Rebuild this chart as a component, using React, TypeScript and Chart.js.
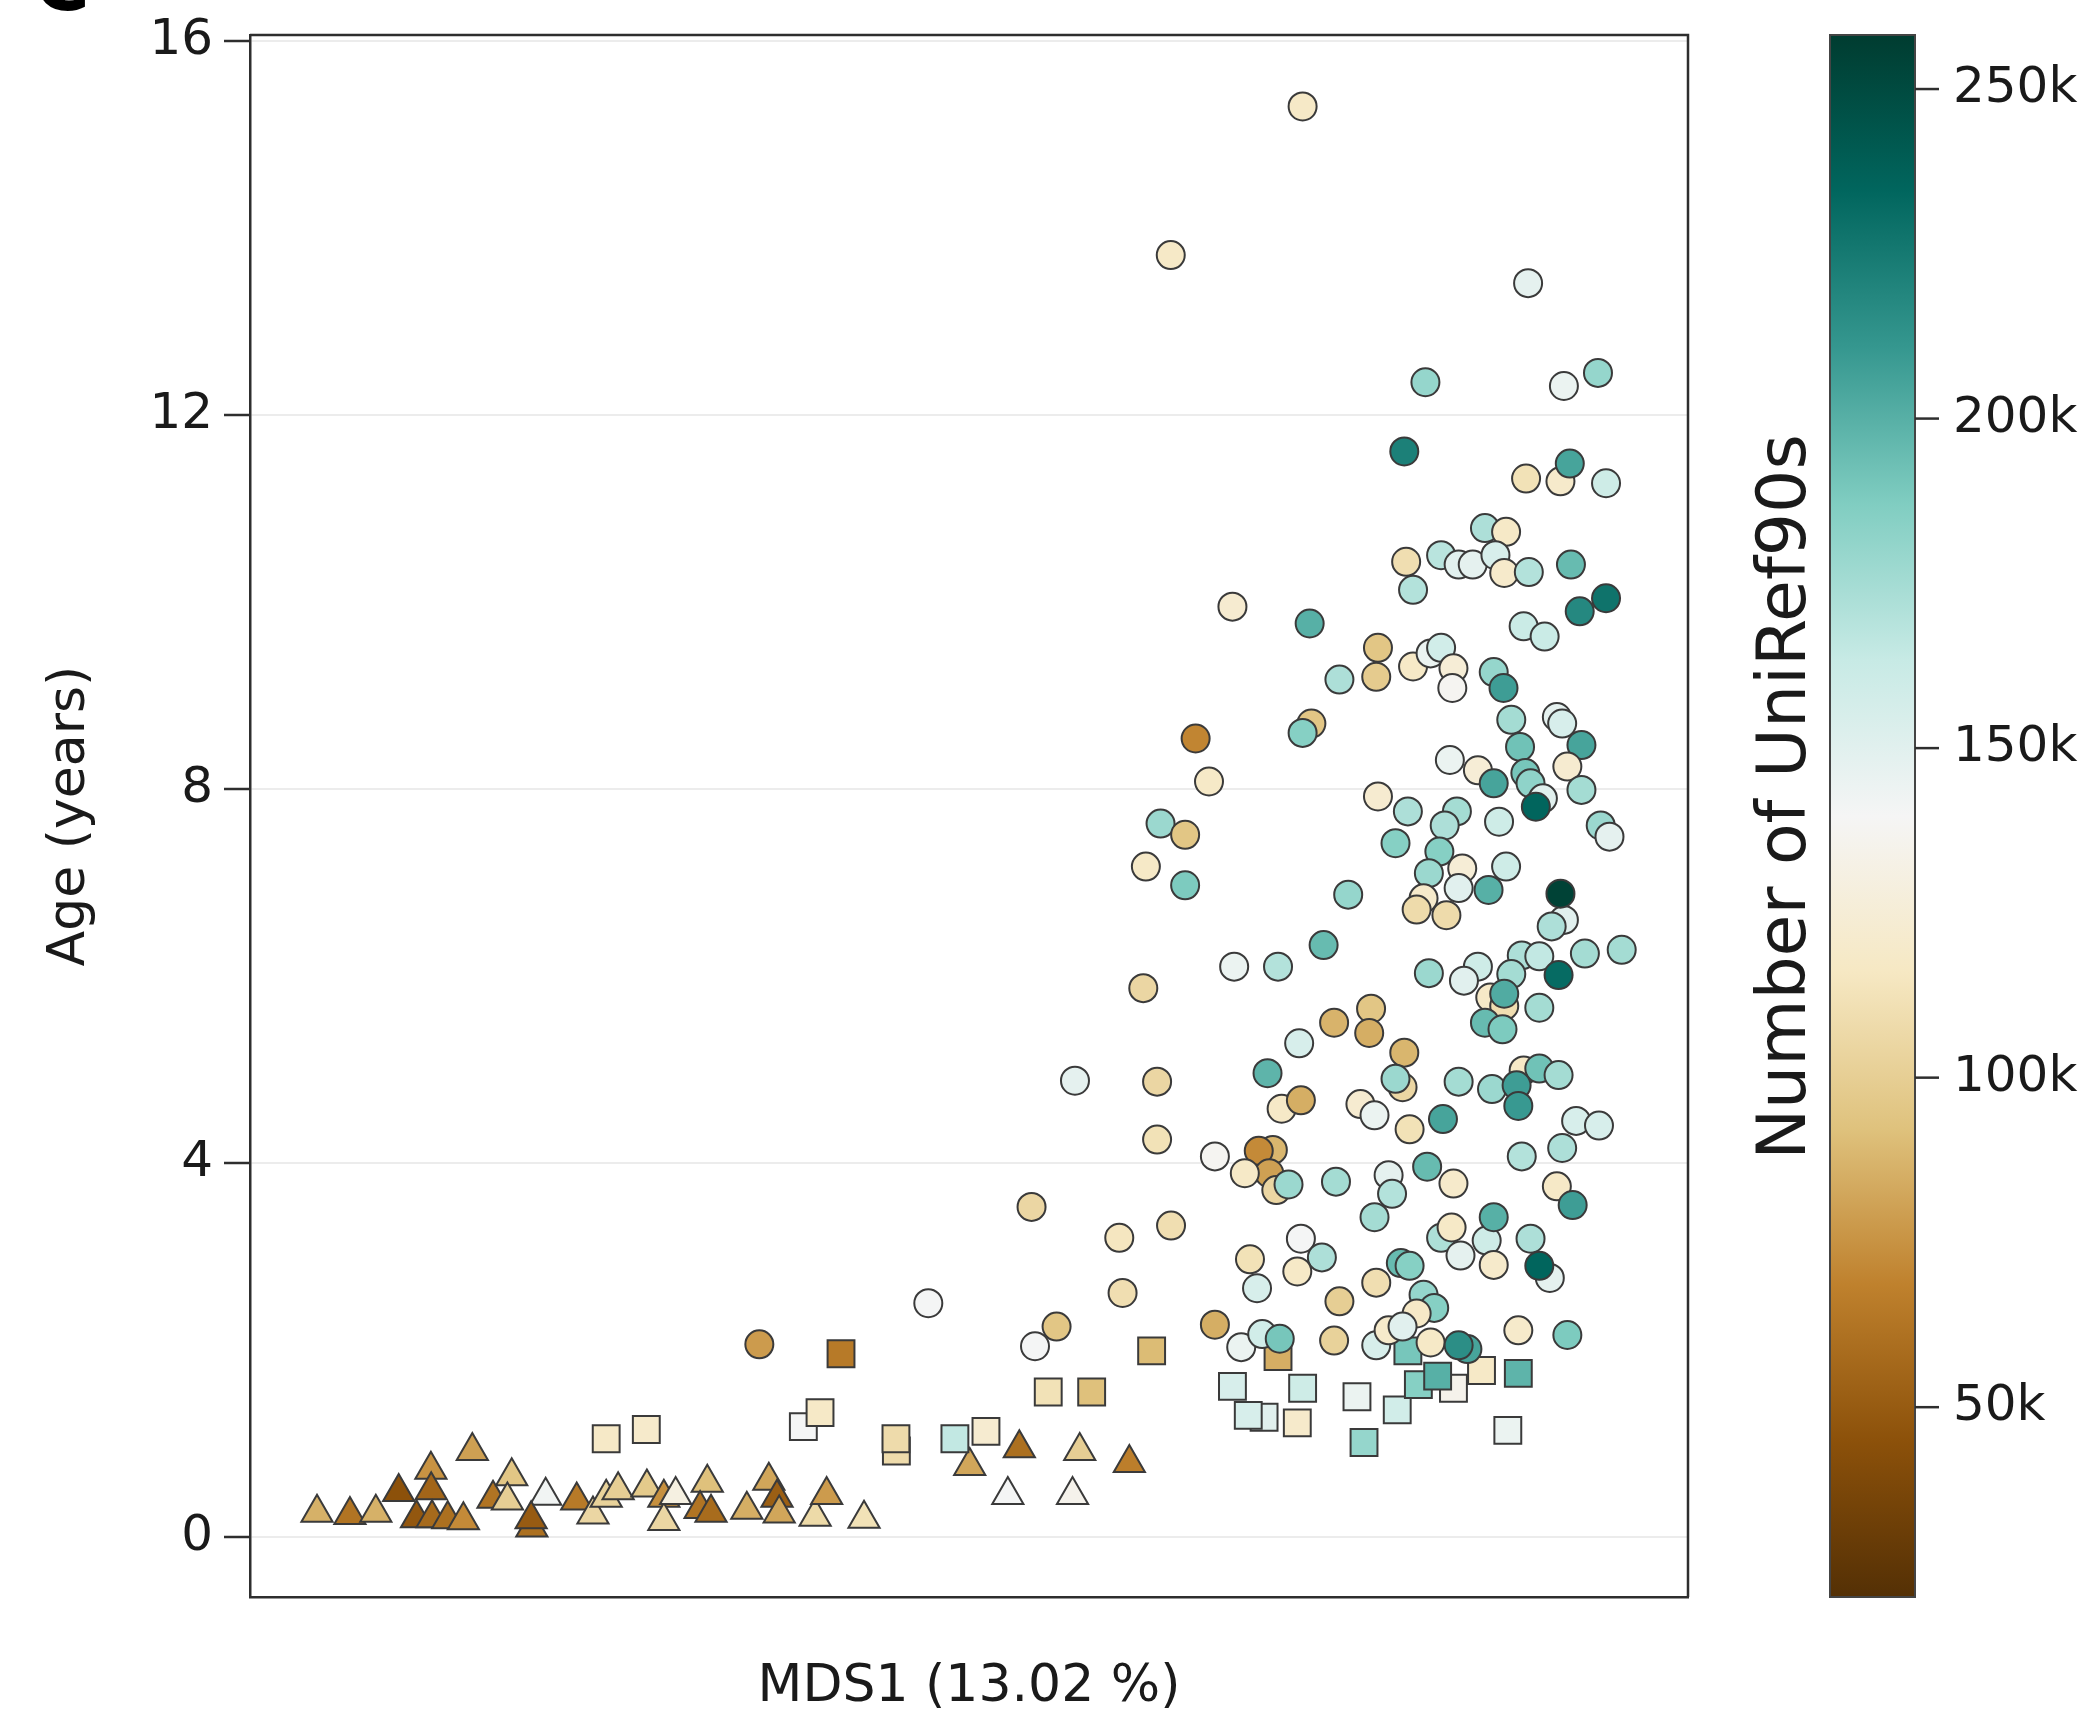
import React, { useEffect, useRef } from 'react';
import { Chart, registerables } from 'chart.js';

Chart.register(...registerables);

// ---------- data ----------
const circleX = [
  73.20, 64.03, 88.88, 81.74, 91.37, 93.74, 80.27, 88.74, 91.13, 91.78,
  94.30, 85.88, 87.35, 80.40, 82.83, 84.05, 85.03, 86.61, 87.22, 88.93,
  91.86, 80.88, 94.30, 92.47, 68.32, 73.69, 88.57, 90.03, 78.44, 78.32,
  75.76, 80.88, 82.10, 82.83, 83.69, 83.61, 86.49, 87.17, 87.71, 90.88,
  91.25, 92.59, 88.32, 73.81, 73.20, 65.76, 66.69, 83.44, 85.39, 86.49,
  88.69, 89.05, 91.61, 89.91, 89.42, 92.59, 78.44, 80.52, 83.93, 83.08,
  86.86, 93.93, 94.54, 79.66, 82.71, 63.32, 65.03, 62.30, 65.03, 81.98,
  84.30, 87.35, 84.05, 86.13, 81.61, 81.13, 83.20, 76.37, 91.37, 90.52,
  91.13, 74.66, 92.83, 95.39, 88.44, 89.66, 68.44, 71.49, 81.98, 85.39,
  84.42, 87.71, 91.00, 86.25, 87.22, 87.22, 89.66, 85.88, 87.10, 77.96,
  77.83, 75.39, 72.96, 80.27, 80.15, 79.66, 70.76, 63.08, 71.74, 73.08,
  77.22, 78.20, 80.64, 82.96, 84.05, 86.37, 88.57, 89.66, 91.00, 88.08,
  88.20, 92.22, 93.81, 91.25, 88.44, 63.08, 67.10, 71.13, 70.15, 70.88,
  69.18, 71.37, 72.22, 75.52, 79.18, 79.42, 78.20, 81.86, 83.69, 90.88,
  91.98, 64.05, 73.08, 74.54, 69.54, 72.83, 70.03, 75.76, 78.32, 82.83,
  83.56, 86.00, 86.49, 84.18, 86.49, 89.05, 90.39, 89.66, 80.03, 80.64,
  81.61, 82.35, 81.13, 67.10, 68.93, 70.39, 71.61, 75.39, 78.32, 79.18,
  80.15, 82.10, 84.66, 84.05, 88.20, 91.61, 62.12, 57.37, 54.35, 60.45,
  60.68, 47.17, 56.09, 54.59, 35.42,
];
const circleY = [
  15.30, 13.71, 13.41, 12.35, 12.31, 12.45, 11.61, 11.32, 11.29, 11.48,
  11.27, 10.79, 10.75, 10.43, 10.50, 10.40, 10.40, 10.50, 10.31, 10.32,
  10.40, 10.13, 10.04, 9.90, 9.95, 9.77, 9.74, 9.63, 9.51, 9.20,
  9.17, 9.31, 9.45, 9.51, 9.29, 9.08, 9.25, 9.08, 8.74, 8.77,
  8.70, 8.47, 8.45, 8.70, 8.60, 8.54, 8.08, 8.31, 8.20, 8.06,
  8.17, 8.06, 8.24, 7.90, 7.81, 7.99, 7.92, 7.76, 7.76, 7.61,
  7.65, 7.61, 7.49, 7.42, 7.33, 7.63, 7.51, 7.17, 6.97, 7.10,
  7.15, 7.17, 6.94, 6.92, 6.83, 6.71, 6.65, 6.87, 6.60, 6.53,
  6.88, 6.33, 6.24, 6.28, 6.22, 6.21, 6.10, 6.10, 6.03, 6.10,
  5.95, 6.02, 6.01, 5.77, 5.68, 5.81, 5.66, 5.50, 5.43, 5.65,
  5.39, 5.50, 5.28, 5.18, 4.81, 4.90, 4.96, 4.87, 4.58, 4.67,
  4.63, 4.51, 4.36, 4.47, 4.87, 4.79, 4.99, 5.01, 4.94, 4.83,
  4.61, 4.45, 4.40, 4.16, 4.07, 4.25, 4.07, 4.14, 4.13, 3.89,
  3.89, 3.71, 3.77, 3.80, 3.87, 3.67, 3.42, 3.96, 3.78, 3.75,
  3.55, 3.33, 3.19, 2.99, 2.97, 2.84, 2.66, 2.52, 2.72, 3.20,
  3.31, 3.17, 3.42, 3.01, 2.91, 3.19, 2.77, 2.90, 2.93, 2.90,
  2.59, 2.45, 2.39, 2.27, 2.03, 2.17, 2.12, 2.10, 2.05, 2.21,
  2.25, 2.08, 2.01, 2.05, 2.21, 2.16, 5.87, 4.88, 3.53, 3.20,
  2.61, 2.50, 2.25, 2.04, 2.06,
];
const circleV = [
  118, 118, 148, 180, 145, 180, 222, 112, 120, 205,
  160, 172, 118, 110, 168, 150, 148, 155, 120, 170,
  195, 170, 228, 218, 122, 200, 162, 162, 95, 98,
  172, 118, 145, 158, 125, 138, 180, 208, 175, 148,
  155, 205, 192, 95, 185, 70, 118, 145, 125, 205,
  190, 182, 122, 150, 235, 175, 122, 172, 175, 172,
  160, 178, 148, 185, 185, 178, 95, 118, 188, 178,
  125, 160, 150, 200, 120, 108, 108, 180, 150, 172,
  255, 195, 175, 175, 172, 165, 145, 170, 178, 160,
  150, 175, 232, 118, 110, 202, 175, 195, 188, 95,
  85, 87, 155, 88, 105, 178, 198, 105, 118, 85,
  122, 145, 112, 205, 175, 178, 118, 192, 175, 208,
  210, 155, 155, 172, 170, 112, 138, 88, 72, 80,
  118, 105, 178, 175, 148, 170, 175, 195, 120, 118,
  208, 110, 140, 172, 112, 118, 155, 100, 110, 172,
  118, 160, 200, 148, 120, 172, 148, 235, 195, 185,
  180, 185, 118, 85, 145, 158, 190, 102, 155, 120,
  150, 118, 205, 215, 120, 188, 105, 148, 105, 115,
  110, 140, 95, 140, 78,
];

const squareX = [
  24.77, 27.56, 41.10, 38.48, 39.64, 44.95, 44.92, 49.02, 51.18, 55.51,
  58.53, 62.70, 71.49, 68.32, 73.20, 76.98, 70.52, 69.42, 72.83, 79.78,
  77.47, 83.69, 81.25, 82.59, 85.64, 88.20, 87.47, 80.52,
];
const squareY = [
  1.05, 1.15, 1.96, 1.18, 1.33, 0.92, 1.05, 1.05, 1.13, 1.55,
  1.55, 1.99, 1.93, 1.61, 1.59, 1.50, 1.28, 1.30, 1.22, 1.36,
  1.01, 1.59, 1.63, 1.72, 1.78, 1.75, 1.14, 1.99,
];
const squareV = [
  118, 120, 65, 140, 118, 108, 108, 165, 122, 112,
  92, 90, 85, 155, 160, 145, 150, 155, 120, 158,
  180, 135, 185, 200, 118, 198, 145, 190,
];

const triangleX = [
  4.66, 6.95, 8.75, 10.34, 12.58, 12.60, 11.58, 12.66, 13.75, 14.84,
  15.46, 16.90, 18.20, 17.90, 20.56, 19.60, 19.55, 22.72, 23.85, 24.77,
  25.60, 27.60, 28.78, 28.78, 29.60, 31.80, 31.30, 32.06, 34.55, 36.08,
  36.65, 36.80, 39.30, 40.10, 42.70, 50.05, 53.50, 57.70, 61.15, 52.70,
  57.20,
];
const triangleY = [
  0.26, 0.235, 0.26, 0.48, 0.72, 0.50, 0.20, 0.20, 0.19, 0.18,
  0.92, 0.41, 0.65, 0.39, 0.44, 0.10, 0.19, 0.39, 0.24, 0.42,
  0.50, 0.53, 0.42, 0.17, 0.45, 0.58, 0.30, 0.26, 0.29, 0.60,
  0.42, 0.25, 0.215, 0.45, 0.195, 0.76, 0.95, 0.92, 0.79, 0.45,
  0.45,
];
const triangleV = [
  86, 62, 86, 45, 75, 55, 48, 57, 60, 72,
  80, 62, 95, 100, 142, 60, 50, 65, 105, 102,
  100, 97, 74, 105, 130, 92, 62, 58, 85, 82,
  52, 82, 107, 78, 112, 82, 60, 100, 67, 140,
  135,
];

const yTicks = [0, 4, 8, 12, 16];
const yRange = [-0.642, 16.064];
const xRange = [0, 100];
const colorbarTicks = [50, 100, 150, 200, 250];
const colorbarRange = [21.2, 258.2];

// ---------- styling ----------
const FONT = "'DejaVu Sans', sans-serif";
const TEXT = '#1a1a1a';
const AXIS = '#2e2e2e';
const BRBG = ['#543005', '#8c510a', '#bf812d', '#dfc27d', '#f6e8c3', '#f5f5f5',
  '#c7eae5', '#80cdc1', '#35978f', '#01665e', '#003c30'];

function hexToRgb(h: string): number[] {
  const n = parseInt(h.slice(1), 16);
  return [(n >> 16) & 255, (n >> 8) & 255, n & 255];
}
function brbg(t: number): string {
  const tt = Math.min(1, Math.max(0, t));
  const p = tt * 10;
  const i = Math.min(9, Math.floor(p));
  const f = p - i;
  const a = hexToRgb(BRBG[i]);
  const b = hexToRgb(BRBG[i + 1]);
  return `rgb(${a.map((c, k) => Math.round(c + (b[k] - c) * f)).join(',')})`;
}
function colorFor(v: number): string {
  return brbg((v - colorbarRange[0]) / (colorbarRange[1] - colorbarRange[0]));
}
function pts(xs: number[], ys: number[]) {
  return xs.map((x, i) => ({ x, y: ys[i] }));
}

const decorPlugin = {
  id: 'decor',
  afterDraw(chart: any) {
    const { ctx, chartArea: a } = chart;
    ctx.save();
    // top & right frame
    ctx.strokeStyle = AXIS;
    ctx.lineWidth = 2.5;
    ctx.beginPath();
    ctx.moveTo(a.left, a.top);
    ctx.lineTo(a.right, a.top);
    ctx.lineTo(a.right, a.bottom);
    ctx.stroke();

    // colorbar
    const s = chart.scales.cb;
    const yTop = s.getPixelForValue(colorbarRange[1]);
    const yBot = s.getPixelForValue(colorbarRange[0]);
    const x0 = 1830;
    const w = 85;
    const g = ctx.createLinearGradient(0, yBot, 0, yTop);
    BRBG.forEach((c, i) => g.addColorStop(i / 10, c));
    ctx.fillStyle = g;
    ctx.fillRect(x0, yTop, w, yBot - yTop);
    ctx.strokeStyle = '#444';
    ctx.lineWidth = 2;
    ctx.strokeRect(x0, yTop, w, yBot - yTop);

    ctx.font = `50px ${FONT}`;
    ctx.fillStyle = TEXT;
    ctx.textAlign = 'left';
    ctx.textBaseline = 'middle';
    ctx.strokeStyle = AXIS;
    ctx.lineWidth = 2.5;
    colorbarTicks.forEach((v) => {
      const y = s.getPixelForValue(v);
      ctx.beginPath();
      ctx.moveTo(x0 + w, y);
      ctx.lineTo(x0 + w + 24, y);
      ctx.stroke();
      ctx.fillText(`${v}k`, x0 + w + 38, y);
    });

    // colorbar title
    ctx.save();
    ctx.translate(1787, 797);
    ctx.rotate(-Math.PI / 2);
    ctx.textAlign = 'center';
    ctx.textBaseline = 'middle';
    ctx.font = `68px ${FONT}`;
    ctx.fillText('Number of UniRef90s', 0, 0);
    ctx.restore();

    // panel letter (cut off at top)
    ctx.font = `bold 76px ${FONT}`;
    ctx.textAlign = 'center';
    ctx.textBaseline = 'alphabetic';
    ctx.fillStyle = '#000';
    ctx.fillText('C', 62, 10);
    ctx.restore();
  },
};

export default function App() {
  const ref = useRef<HTMLCanvasElement | null>(null);

  useEffect(() => {
    if (!ref.current) return;
    const border = '#3a3a3a';
    const chart = new Chart(ref.current, {
      type: 'scatter',
      data: {
        datasets: [
          {
            label: 'circles',
            data: pts(circleX, circleY),
            pointStyle: 'circle',
            pointRadius: 14,
            pointBorderWidth: 2,
            pointBorderColor: border,
            pointBackgroundColor: circleV.map(colorFor),
          },
          {
            label: 'squares',
            data: pts(squareX, squareY),
            pointStyle: 'rect',
            pointRadius: 19,
            pointBorderWidth: 2,
            pointBorderColor: border,
            pointBackgroundColor: squareV.map(colorFor),
          },
          {
            label: 'triangles',
            data: pts(triangleX, triangleY),
            pointStyle: 'triangle',
            pointRadius: 18,
            pointBorderWidth: 2,
            pointBorderColor: border,
            pointBackgroundColor: triangleV.map(colorFor),
          },
        ],
      } as any,
      options: {
        responsive: false,
        animation: false,
        devicePixelRatio: 1,
        events: [],
        layout: { padding: { left: 0, top: 35, right: 411, bottom: 0 } },
        plugins: { legend: { display: false }, tooltip: { enabled: false } },
        scales: {
          x: {
            type: 'linear',
            min: xRange[0],
            max: xRange[1],
            afterFit: (s: any) => { s.height = 116; s.paddingLeft = 0; s.paddingRight = 0; },
            ticks: { display: false },
            grid: { display: false, drawTicks: false },
            border: { display: true, color: AXIS, width: 2.5 },
            title: {
              display: true,
              text: 'MDS1 (13.02 %)',
              color: TEXT,
              font: { family: FONT, size: 52 },
              padding: { top: 0, bottom: -6 },
            },
          },
          y: {
            type: 'linear',
            min: yRange[0],
            max: yRange[1],
            afterBuildTicks: (s: any) => { s.ticks = yTicks.map((v) => ({ value: v })); },
            afterFit: (s: any) => { s.width = 250; s.paddingTop = 0; s.paddingBottom = 0; },
            grid: {
              color: '#ececec',
              lineWidth: 2,
              drawTicks: true,
              tickLength: 26,
              tickColor: AXIS,
              tickWidth: 2.5,
            },
            border: { display: true, color: AXIS, width: 2.5 },
            ticks: {
              color: TEXT,
              font: { family: FONT, size: 50 },
              padding: 11,
            },
            title: {
              display: true,
              text: 'Age (years)',
              color: TEXT,
              font: { family: FONT, size: 52 },
              padding: { top: 39, bottom: 0 },
            },
          },
          cb: {
            type: 'linear',
            axis: 'y',
            position: 'right',
            display: false,
            min: colorbarRange[0],
            max: colorbarRange[1],
          },
        },
      } as any,
      plugins: [decorPlugin],
    });
    return () => chart.destroy();
  }, []);

  return (
    <div style={{ position: 'absolute', left: 0, top: 0, width: 2099, height: 1713, background: '#fff' }}>
      <canvas ref={ref} width={2099} height={1713} style={{ display: 'block', width: 2099, height: 1713 }} />
    </div>
  );
}
